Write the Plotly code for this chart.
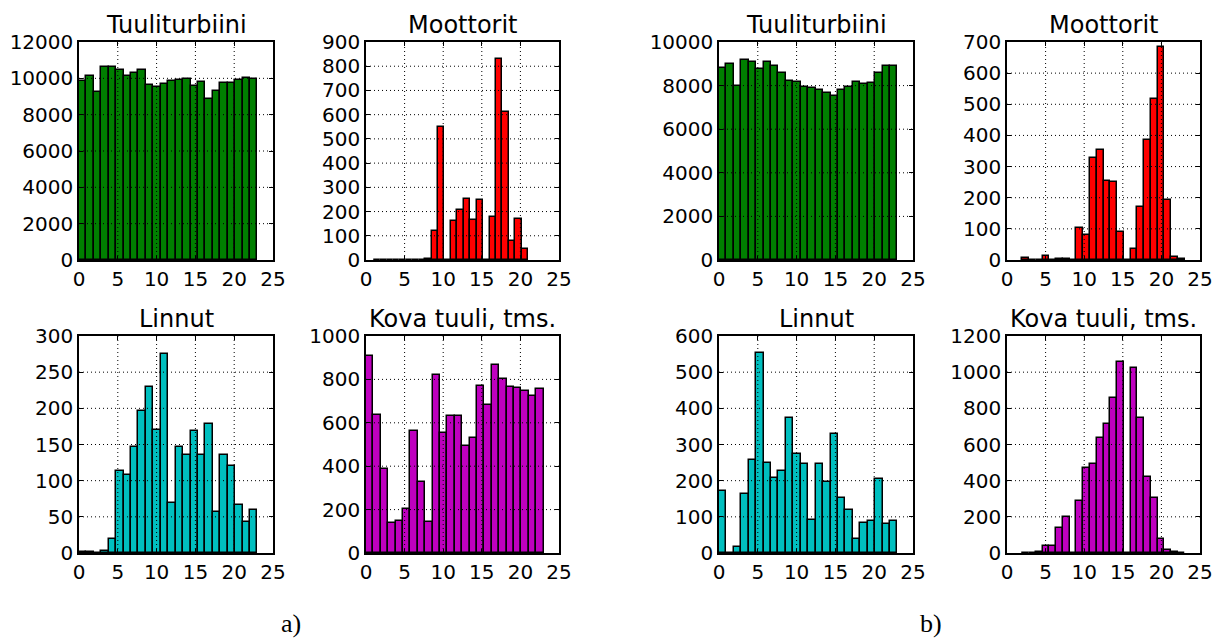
import numpy as np
import plotly.graph_objects as go

# ---------------- data ----------------
titles = ["Tuuliturbiini", "Moottorit", "Linnut", "Kova tuuli, tms."]
colors = ["#007f00", "#ff0000", "#00bfbf", "#bf00bf"]

# a) counts per bin (24 bins)
a_tuuliturbiini = [9880, 10140, 9260, 10600, 10600, 10470, 10110, 10310, 10440, 9610, 9500, 9700,
                   9870, 9890, 9960, 9590, 9780, 8890, 9320, 9760, 9720, 9900, 10010, 9960]
a_moottorit = [1, 0, 0, 0, 0, 1, 2, 2, 4, 121, 549, 0,
               160, 205, 253, 166, 248, 0, 179, 831, 611, 77, 168, 45]
a_linnut = [1, 2, 0, 3, 19, 113, 108, 147, 197, 230, 170, 275,
            69, 146, 135, 168, 136, 179, 57, 136, 120, 66, 43, 60]
a_kova = [908, 638, 387, 136, 147, 202, 564, 327, 144, 821, 552, 630,
          633, 492, 532, 769, 683, 867, 801, 766, 760, 745, 725, 755]

# b) counts per bin (24 bins)
b_tuuliturbiini = [8810, 8990, 7970, 9190, 9100, 8760, 9070, 8900, 8560, 8230, 8170, 7940,
                   7900, 7780, 7680, 7510, 7780, 7950, 8150, 8070, 8140, 8560, 8880, 8890]
b_moottorit = [8, 0, 0, 12, 0, 4, 3, 0, 104, 81, 328, 354,
               253, 252, 89, 0, 34, 170, 386, 516, 685, 193, 11, 2]
b_linnut = [172, 0, 17, 164, 256, 553, 250, 207, 226, 372, 274, 246,
            92, 245, 197, 329, 151, 119, 39, 83, 88, 206, 81, 89]
b_kova = [1, 2, 5, 37, 37, 141, 200, 0, 289, 471, 491, 636,
          714, 857, 1057, 0, 1024, 747, 420, 304, 79, 16, 3, 1]

# histogram ranges (min, max of the data) for each panel, 24 bins
a_ranges = [(0, 23), (1, 21), (0, 23), (0, 23)]
b_ranges = [(0, 23), (2, 23), (0, 23), (2, 23)]
n_bins = 24

a_ymax = [12000, 900, 300, 1000]
a_dtick = [2000, 100, 50, 200]
b_ymax = [10000, 700, 600, 1200]
b_dtick = [2000, 100, 100, 200]

x_ticks = [0, 5, 10, 15, 20, 25]

# ---------------- layout geometry (page pixels) ----------------
W, H = 1224, 644
OFF = 8  # default body margin of the html page
col_px = [(79, 273), (366, 559), (719, 913), (1007, 1200)]
row_px = [(42, 260), (336, 553)]


def fx(px):
    return (px - OFF) / W


def fy(py):
    return 1 - (py - OFF) / H


panels = []
for g, (vals, ranges, ymaxs, dticks) in enumerate([
        ([a_tuuliturbiini, a_moottorit, a_linnut, a_kova], a_ranges, a_ymax, a_dtick),
        ([b_tuuliturbiini, b_moottorit, b_linnut, b_kova], b_ranges, b_ymax, b_dtick)]):
    for k in range(4):
        r, c = divmod(k, 2)
        panels.append(dict(vals=vals[k], rng=ranges[k], ymax=ymaxs[k], dtick=dticks[k],
                           title=titles[k], color=colors[k], row=r, col=g * 2 + c))

fig = go.Figure()
shapes = []
annotations = []
font_family = "DejaVu Sans"

for i, p in enumerate(panels):
    n = i + 1
    xa = "x" if n == 1 else f"x{n}"
    ya = "y" if n == 1 else f"y{n}"
    edges = np.linspace(p["rng"][0], p["rng"][1], n_bins + 1)
    centers = (edges[:-1] + edges[1:]) / 2
    width = edges[1] - edges[0]
    fig.add_trace(go.Bar(
        x=centers, y=p["vals"], width=width,
        marker=dict(color=p["color"], line=dict(color="black", width=1.5)),
        xaxis=xa, yaxis=ya, showlegend=False, hoverinfo="skip"))

    x0, x1 = col_px[p["col"]]
    y0, y1 = row_px[p["row"]]
    xdom = [fx(x0), fx(x1)]
    ydom = [fy(y1), fy(y0)]
    yticks = list(np.arange(0, p["ymax"] + p["dtick"] / 2, p["dtick"]))
    common = dict(showline=True, linecolor="black", linewidth=1.5, mirror="allticks",
                  ticks="inside", ticklen=4, tickwidth=1, tickcolor="black",
                  showgrid=False, zeroline=False, layer="above traces", automargin=False,
                  tickfont=dict(family=font_family, size=20, color="black"))
    fig.update_layout(**{
        ("xaxis" if n == 1 else f"xaxis{n}"): dict(
            domain=xdom, anchor=ya, range=[0, 25], tickmode="array",
            tickvals=x_ticks, ticktext=[str(t) for t in x_ticks], **common),
        ("yaxis" if n == 1 else f"yaxis{n}"): dict(
            domain=ydom, anchor=xa, range=[0, p["ymax"]], tickmode="array",
            tickvals=yticks, ticktext=[str(int(t)) for t in yticks], **common),
    })
    # dotted grid drawn above bars
    for t in x_ticks[1:-1]:
        shapes.append(dict(type="line", xref=xa, yref=f"{ya} domain", x0=t, x1=t, y0=0, y1=1,
                           line=dict(color="black", width=1, dash="1px,3px"), layer="above"))
    for t in yticks[1:-1]:
        shapes.append(dict(type="line", xref=f"{xa} domain", yref=ya, x0=0, x1=1, y0=t, y1=t,
                           line=dict(color="black", width=1, dash="1px,3px"), layer="above"))
    annotations.append(dict(text=p["title"], xref=f"{xa} domain", yref=f"{ya} domain",
                            x=0.5, y=1, xanchor="center", yanchor="bottom", yshift=1,
                            showarrow=False,
                            font=dict(family=font_family, size=24, color="black")))

for lab, xp in [("a)", 291), ("b)", 931)]:
    annotations.append(dict(text=lab, xref="paper", yref="paper", x=fx(xp), y=fy(623),
                            xanchor="center", yanchor="middle", showarrow=False,
                            font=dict(family="Liberation Serif", size=26, color="black")))

fig.update_layout(width=W, height=H, margin=dict(l=0, r=0, t=0, b=0),
                  paper_bgcolor="white", plot_bgcolor="white", bargap=0,
                  shapes=shapes, annotations=annotations)

fig.write_html("out.html")
